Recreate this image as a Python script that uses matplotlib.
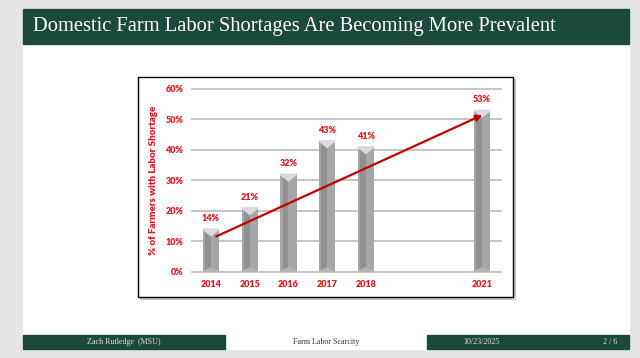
import matplotlib.pyplot as plt
from matplotlib.patches import Rectangle, Polygon, FancyArrowPatch

years = [2014, 2015, 2016, 2017, 2018, 2021]
share = [0.14, 0.21, 0.32, 0.43, 0.41, 0.53]
labels = ['14%', '21%', '32%', '43%', '41%', '53%']
yticks = [0, 0.1, 0.2, 0.3, 0.4, 0.5, 0.6]
ytick_labels = ['0%', '10%', '20%', '30%', '40%', '50%', '60%']
trend_x = [2014.07, 2021.07]
trend_y = [0.112, 0.518]

title = 'Domestic Farm Labor Shortages Are Becoming More Prevalent'
footer = ['Zach Rutledge  (MSU)', 'Farm Labor Scarcity', '10/23/2025', '2 / 6']

green = '#1b4a3c'
red = '#e8161b'
serif = 'Liberation Serif'
sans = 'Lato'

fig = plt.figure(figsize=(6.4, 3.58), dpi=100, facecolor='#e5e5e5')

# slide background in pixel coordinates
bg = fig.add_axes([0, 0, 1, 1])
bg.set_xlim(0, 640)
bg.set_ylim(358, 0)
bg.axis('off')
bg.add_patch(Rectangle((23, 9), 606, 340, color='white'))
bg.add_patch(Rectangle((23, 9), 606, 35, color=green))
bg.text(33, 27, title, color='white', fontsize=14.8, family=serif, va='center')

# footer
bg.add_patch(Rectangle((23, 335), 202, 14, color=green))
bg.add_patch(Rectangle((427, 335), 202, 14, color=green))
bg.text(124, 342, footer[0], color='#dddddd', fontsize=5.8, family=serif, ha='center', va='center')
bg.text(326, 342, footer[1], color='#333333', fontsize=5.8, family=serif, ha='center', va='center')
bg.text(481, 342, footer[2], color='#dddddd', fontsize=5.8, family=serif, ha='center', va='center')
bg.text(617, 342, footer[3], color='#dddddd', fontsize=5.8, family=serif, ha='right', va='center')

# chart frame with a small shadow
bg.add_patch(Rectangle((140, 79), 375, 220, color='#c8c8c8'))
bg.add_patch(Rectangle((138, 77), 375, 220, facecolor='white', edgecolor='black', lw=1))

ax = fig.add_axes([191.6 / 640, 1 - 271.7 / 358, 309.8 / 640, 182.7 / 358])
ax.set_xlim(2013.5, 2021.5)
ax.set_ylim(0, 0.6)
ax.patch.set_alpha(0)
for s in ax.spines.values():
    s.set_visible(False)
for t in yticks:
    ax.axhline(t, color='#c0c0c0', lw=1.3, zorder=0, clip_on=False)

w = 0.42
cap = 0.022
for x, v in zip(years, share):
    ax.bar(x, v, width=w, color='#a6a6a6', zorder=2)
    ax.bar(x - w * 0.18, v, width=w * 0.36, color='#909090', zorder=2)
    ax.add_patch(Polygon([(x - w / 2, v), (x + w / 2, v), (x, v - cap)],
                         closed=True, color='#dadada', zorder=3))
    ax.add_patch(Polygon([(x - w / 2, 0), (x + w / 2, 0), (x, cap * 0.6)],
                         closed=True, color='#b4b4b4', zorder=3))

for x, v, lab in zip(years, share, labels):
    ax.annotate(lab, (x, v), xytext=(0, 7.5), textcoords='offset points',
                ha='center', va='center', color=red, fontsize=6.5,
                fontweight='heavy', family=sans)

ax.add_patch(FancyArrowPatch((trend_x[0], trend_y[0]), (trend_x[1], trend_y[1]),
                             arrowstyle='-|>', mutation_scale=9, color='#c00000',
                             lw=1.6, zorder=4))

ax.set_xticks(years)
ax.set_xticklabels([str(y) for y in years])
ax.set_yticks(yticks)
ax.set_yticklabels(ytick_labels)
ax.tick_params(length=0, colors=red, labelsize=6.5, pad=6)
for lab in ax.get_xticklabels() + ax.get_yticklabels():
    lab.set_fontweight('heavy')
    lab.set_family(sans)
ax.set_ylabel('% of Farmers with Labor Shortage', color=red, fontsize=7,
              fontweight='heavy', family=sans, labelpad=5)

fig.savefig('out.png', dpi=100, facecolor=fig.get_facecolor())
